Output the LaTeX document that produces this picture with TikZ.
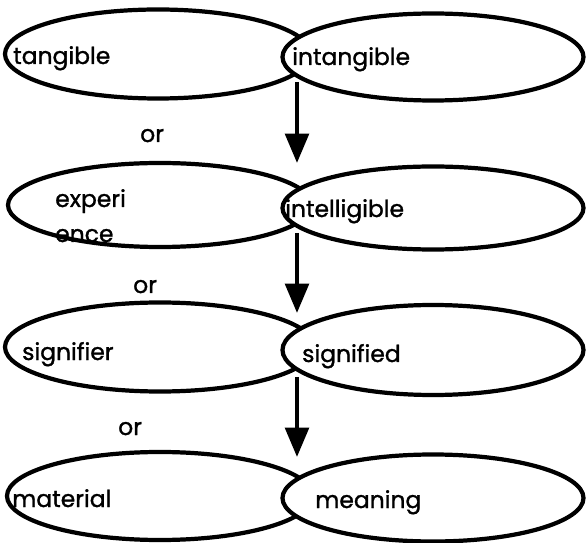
\documentclass[tikz,border=0pt]{standalone}
\usepackage{fontspec}
\setmainfont{Poppins}
\newfontfamily\wordfont{Poppins}[FakeBold=1.2]
\usetikzlibrary{shapes.geometric,arrows.meta}

\tikzset{
  oval/.style={draw, ellipse, line width=3.6pt, inner sep=0pt, fill=white},
  word/.style={font=\wordfont\fontsize{20}{24}\selectfont, inner sep=0pt, anchor=base west},
  flow/.style={line width=3.6pt, -{Triangle[length=25pt,width=20pt]}}
}

\begin{document}
\begin{tikzpicture}[x=0.03cm,y=-0.03cm]
\useasboundingbox (0,0) rectangle (587,543);

% to draw ovals (left one first, right one on top)
\node [oval, minimum width=9.18cm, minimum height=2.67cm] (tangO) at (158,54) {};
\node [oval, minimum width=9.03cm, minimum height=2.61cm] (intangO) at (433,57) {};
\node [oval, minimum width=9.12cm, minimum height=2.52cm] (expO) at (160,205) {};
\node [oval, minimum width=9.03cm, minimum height=2.49cm] (intelO) at (433,208) {};
\node [oval, minimum width=9.3cm, minimum height=2.67cm] (sigrO) at (160,347) {};
\node [oval, minimum width=9.03cm, minimum height=2.7cm] (sigdO) at (433,350) {};
\node [oval, minimum width=9.18cm, minimum height=2.64cm] (matO) at (160,496) {};
\node [oval, minimum width=9.03cm, minimum height=2.61cm] (meanO) at (433,498) {};

% to write words in the ovals
\node [word] (tangT) at (13,64) {tangible};
\node [word] (intangT) at (292,65) {intangible};
\node [word] (expT) at (55,207) {experi};
\node [word] (enceT) at (55,242) {ence};
\node [word] (intelT) at (285,217) {intelligible};
\node [word] (sigrT) at (22,360) {signifier};
\node [word] (sigdT) at (302,362) {signified};
\node [word] (matT) at (12,507) {material};
\node [word] (meanT) at (315,508) {meaning};

% to write or
\node [word] (or1) at (140,142) {or};
\node [word] (or2) at (133,293) {or};
\node [word] (or3) at (118,435) {or};

% to draw arrows
\coordinate (a1s) at (297,82);
\coordinate (a1e) at (297,163);
\coordinate (a2s) at (297,233);
\coordinate (a2e) at (297,313);
\coordinate (a3s) at (297,377);
\coordinate (a3e) at (297,457);
\draw [flow] (a1s) -- (a1e);
\draw [flow] (a2s) -- (a2e);
\draw [flow] (a3s) -- (a3e);
\end{tikzpicture}
\end{document}
